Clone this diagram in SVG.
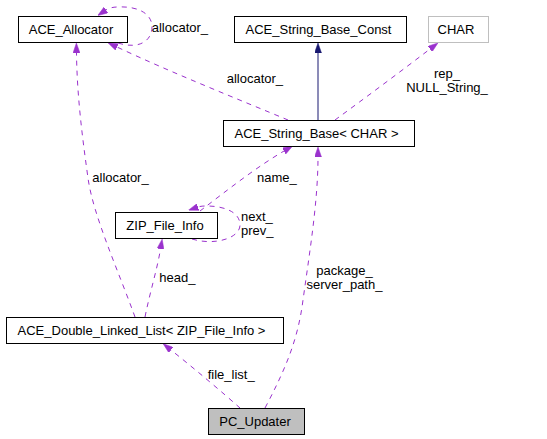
<svg xmlns="http://www.w3.org/2000/svg" width="547" height="439" viewBox="0 0 547 439">
<style>
.node rect{fill:#ffffff;stroke:#000000;stroke-width:1}
.node text{font-family:"Liberation Sans",Arial,sans-serif;font-size:13px;fill:#000000;text-anchor:middle}
.lbl{font-family:"Liberation Sans",Arial,sans-serif;font-size:13px;fill:#000000}
.use{fill:none;stroke:#9a32cd;stroke-width:1;stroke-dasharray:5,5;marker-end:url(#ap)}
.inh{fill:none;stroke:#191970;stroke-width:1;marker-end:url(#an)}
</style>
<defs>
<marker id="ap" markerUnits="userSpaceOnUse" viewBox="0 0 10 7" refX="0" refY="3.5" markerWidth="10" markerHeight="7" orient="auto">
<path d="M0,0 L10,3.5 L0,7 Z" fill="#9a32cd" stroke="#9a32cd" stroke-width="0.5"/>
</marker>
<marker id="an" markerUnits="userSpaceOnUse" viewBox="0 0 10 7" refX="0" refY="3.5" markerWidth="10" markerHeight="7" orient="auto">
<path d="M0,0 L10,3.5 L0,7 Z" fill="#191970" stroke="#191970" stroke-width="0.5"/>
</marker>
</defs>
<rect width="547" height="439" fill="#ffffff"/>
<g id="connectors">
<path class="use" d="M118,43 C140,50 152,40 152,27 C152,12 135,6 118,7 C113,7 109,8 106,10"/>
<path class="use" d="M288,120 C240,100 170,72 117,47"/>
<path class="use" d="M135,317 C118,270 93,215 88,178 C82,135 77,95 76.5,53"/>
<path class="inh" d="M318,120 L318,53"/>
<path class="use" d="M335,120 C365,98 400,72 430,49"/>
<path class="use" d="M200,211 C225,192 255,168 284,151"/>
<path class="use" d="M192,239 C215,246 240,238 240,225 C240,211 222,206 207,206 C204,206 201,206 198,207"/>
<path class="use" d="M145,317 C150,292 157,270 160.5,249"/>
<path class="use" d="M240,408 C222,392 196,370 171,350"/>
<path class="use" d="M265,408 C285,370 298,340 303,300 C310,250 318,200 318,157"/>
<text class="lbl" x="151.7" y="32">allocator_</text>
<text class="lbl" x="226.7" y="83">allocator_</text>
<text class="lbl" x="92.3" y="181.7">allocator_</text>
<text class="lbl" x="447" y="77.5" text-anchor="middle">rep_</text>
<text class="lbl" x="447" y="91.7" text-anchor="middle">NULL_String_</text>
<text class="lbl" x="257" y="181.7">name_</text>
<text class="lbl" x="241" y="221">next_</text>
<text class="lbl" x="241" y="235.2">prev_</text>
<text class="lbl" x="159.3" y="281.7">head_</text>
<text class="lbl" x="344.5" y="275" text-anchor="middle">package_</text>
<text class="lbl" x="344.5" y="289.3" text-anchor="middle">server_path_</text>
<text class="lbl" x="207.7" y="379">file_list_</text>
</g>
<g id="ACE_Allocator" class="node">
<rect x="18.5" y="16.5" width="109" height="26"/>
<text x="71" y="34">ACE_Allocator</text>
</g>
<g id="ACE_String_Base_Const" class="node">
<rect x="234.5" y="16.5" width="172" height="26"/>
<text x="318.5" y="34">ACE_String_Base_Const</text>
</g>
<g id="CHAR" class="node">
<rect x="428.5" y="16.5" width="60" height="26" style="stroke:#bfbfbf"/>
<text x="456" y="34">CHAR</text>
</g>
<g id="ACE_String_Base_CHAR" class="node">
<rect x="223.5" y="120.5" width="191" height="26"/>
<text x="316.5" y="138">ACE_String_Base&lt; CHAR &gt;</text>
</g>
<g id="ZIP_File_Info" class="node">
<rect x="115.5" y="212.5" width="102" height="26"/>
<text x="165" y="229.5">ZIP_File_Info</text>
</g>
<g id="ACE_Double_Linked_List" class="node">
<rect x="6.5" y="317.5" width="277" height="26"/>
<text x="141.5" y="335">ACE_Double_Linked_List&lt; ZIP_File_Info &gt;</text>
</g>
<g id="PC_Updater" class="node">
<rect x="208.5" y="408.5" width="96" height="26" style="fill:#bfbfbf"/>
<text x="255" y="426">PC_Updater</text>
</g>
</svg>
